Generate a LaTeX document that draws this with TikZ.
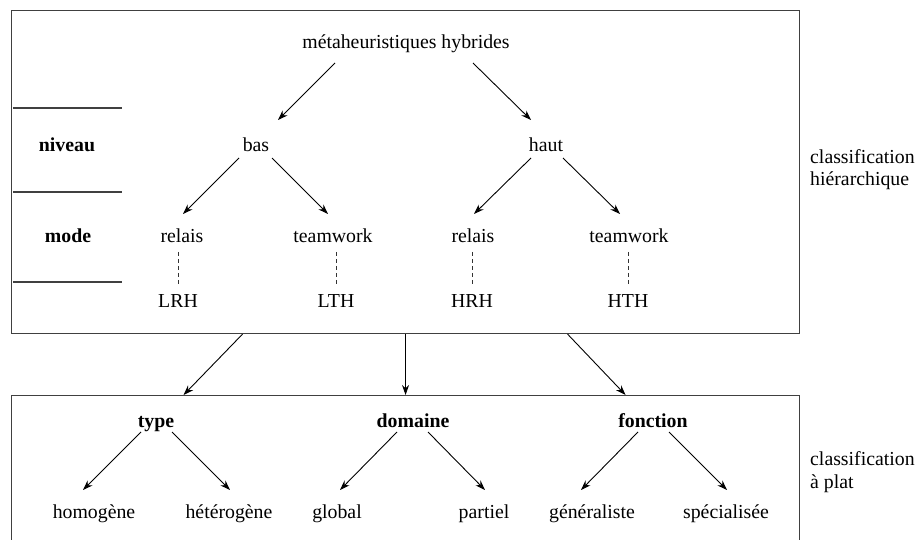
\documentclass[tikz,border=0pt]{standalone}
\usepackage{fontspec}
\setmainfont{Liberation Serif}
\usetikzlibrary{arrows.meta}

\begin{document}
\begin{tikzpicture}[
            x = 1pt, y = -1pt, % one unit per pixel, y going down
            > = {Stealth[length=10pt, width=7pt]}, % arrow head style
            every node/.style = {font=\fontsize{19.8}{22.5}\selectfont, inner sep=0pt, anchor=base},
            lvl/.style = {font=\fontsize{19.8}{22.5}\selectfont\bfseries},
            side/.style = {anchor=base west, align=left},
            frame/.style = {draw=black!75, line width=1.1pt, minimum width=788pt, anchor=north west},
            rule/.style = {draw=black!75, line width=1.1pt},
            link/.style = {->, line width=0.9pt},
            dashlink/.style = {draw=black!80, line width=0.9pt, dash pattern=on 4pt off 3pt}
        ]

        \useasboundingbox (0,0) rectangle (919,540);

        % the two frames
        \node[frame, minimum height=323pt] (hier) at (11,10) {};
        \node[frame, minimum height=170pt] (flat) at (11,395) {};

        \foreach \y in {108,192,282}
            \draw[rule] (13,\y) -- (122,\y);

        % hierarchical part
        \node (meta) at (406,49) {métaheuristiques hybrides};
        \node[lvl] (niveau) at (67,152) {niveau};
        \node (bas) at (256,152) {bas};
        \node (haut) at (546,152) {haut};
        \node[lvl] (mode) at (68,243) {mode};
        \node (relaisB) at (182,243) {relais};
        \node (teamB) at (333,243) {teamwork};
        \node (relaisH) at (473,243) {relais};
        \node (teamH) at (629,243) {teamwork};
        \node (lrh) at (178,308) {LRH};
        \node (lth) at (336,308) {LTH};
        \node (hrh) at (472,308) {HRH};
        \node (hth) at (628,308) {HTH};

        % flat part
        \node[lvl] (type) at (156,427) {type};
        \node[lvl] (domaine) at (413,427) {domaine};
        \node[lvl] (fonction) at (653,427) {fonction};
        \node (homo) at (94,518) {homogène};
        \node (hetero) at (229,518) {hétérogène};
        \node (global) at (337,518) {global};
        \node (partiel) at (484,518) {partiel};
        \node (gene) at (592,518) {généraliste};
        \node (spec) at (726,518) {spécialisée};

        % base of a two-line node sits on its last line
        \node[side] (hierlab) at (810,186) {classification\\hiérarchique};
        \node[side] (flatlab) at (810,488) {classification\\à plat};

        \draw[link] ([shift={(-71pt,-14pt)}]meta.base) -- ([shift={(22pt,32pt)}]bas.base);
        \draw[link] ([shift={(67pt,-14pt)}]meta.base) -- ([shift={(-15pt,32pt)}]haut.base);
        \draw[link] ([shift={(-17pt,-6pt)}]bas.base) -- ([shift={(1pt,29pt)}]relaisB.base);
        \draw[link] ([shift={(16pt,-6pt)}]bas.base) -- ([shift={(-5pt,29pt)}]teamB.base);
        \draw[link] ([shift={(-15pt,-6pt)}]haut.base) -- ([shift={(1pt,29pt)}]relaisH.base);
        \draw[link] ([shift={(17pt,-6pt)}]haut.base) -- ([shift={(-9pt,29pt)}]teamH.base);

        \draw[dashlink] ([yshift=-9pt]relaisB.base -| lrh) -- ([yshift=22pt]lrh.base);
        \draw[dashlink] ([yshift=-9pt]teamB.base -| lth) -- ([yshift=22pt]lth.base);
        \draw[dashlink] ([yshift=-9pt]relaisH.base -| hrh) -- ([yshift=22pt]hrh.base);
        \draw[dashlink] ([yshift=-9pt]teamH.base -| hth) -- ([yshift=22pt]hth.base);

        \draw[link] ([xshift=-163pt]hier.south) -- ([xshift=-222pt]flat.north);
        \draw[link] (hier.south) -- (flat.north);
        \draw[link] ([xshift=162pt]hier.south) -- ([xshift=220pt]flat.north);

        \draw[link] ([shift={(-15pt,-5pt)}]type.base) -- ([shift={(-11pt,28pt)}]homo.base);
        \draw[link] ([shift={(16pt,-5pt)}]type.base) -- ([shift={(1pt,28pt)}]hetero.base);
        \draw[link] ([shift={(-16pt,-5pt)}]domaine.base) -- ([shift={(3pt,28pt)}]global.base);
        \draw[link] ([shift={(15pt,-5pt)}]domaine.base) -- ([shift={(1pt,28pt)}]partiel.base);
        \draw[link] ([shift={(-15pt,-5pt)}]fonction.base) -- ([shift={(-11pt,28pt)}]gene.base);
        \draw[link] ([shift={(16pt,-5pt)}]fonction.base) -- ([shift={(1pt,28pt)}]spec.base);

        %\draw[red] (0,0) rectangle (919,540);
    \end{tikzpicture}
\end{document}
